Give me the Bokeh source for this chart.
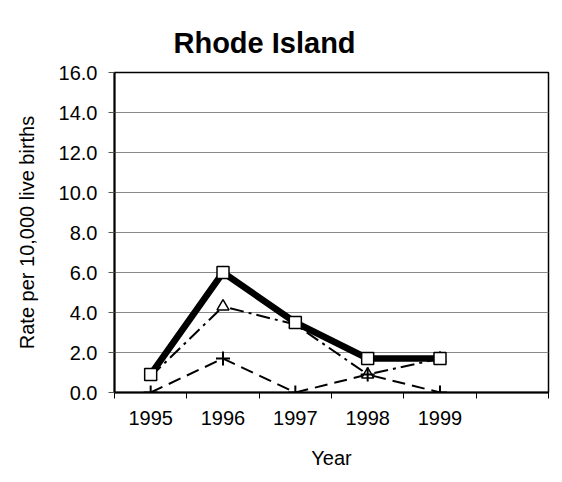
from bokeh.plotting import figure
from bokeh.models import FixedTicker, NumeralTickFormatter, Range1d
from bokeh.embed import file_html
from bokeh.resources import INLINE

years = ["1995", "1996", "1997", "1998", "1999"]
series_square = [0.9, 6.0, 3.5, 1.7, 1.7]
series_triangle = [0.8, 4.3, 3.4, 0.9, 1.7]
series_plus = [0.0, 1.7, 0.0, 0.9, 0.0]
y_ticks = [0, 2, 4, 6, 8, 10, 12, 14, 16]
n_slots = 6  # one empty category slot after 1999

xs = [i + 0.5 for i in range(len(years))]

FONT = "Liberation Sans"

p = figure(width=562, height=482, output_backend="svg", toolbar_location=None,
           x_range=Range1d(0, n_slots), y_range=Range1d(0, 16),
           min_border_left=114, min_border_right=14, min_border_top=72,
           min_border_bottom=90)

p.title.text = "Rhode Island"
p.title.text_font = FONT
p.title.text_font_size = "29px"
p.title.text_font_style = "bold"
p.title.text_color = "black"
p.title.align = "left"
p.title.offset = 59
p.title.standoff = 28

p.outline_line_color = "black"
p.outline_line_width = 1.5
p.background_fill_color = "white"
p.border_fill_color = "white"

# x axis
xa = p.xaxis[0]
xa.ticker = FixedTicker(ticks=xs, minor_ticks=list(range(n_slots + 1)))
xa.major_label_overrides = {x: y for x, y in zip(xs, years)}
xa.major_tick_line_color = None
xa.major_tick_out = 0
xa.major_tick_in = 0
xa.minor_tick_line_color = "black"
xa.minor_tick_out = 6
xa.minor_tick_in = 0
xa.axis_line_color = "black"
xa.axis_line_width = 2
xa.major_label_text_font = FONT
xa.major_label_text_font_size = "20px"
xa.major_label_text_color = "black"
xa.major_label_standoff = 12
xa.axis_label = "Year"
xa.axis_label_text_font = FONT
xa.axis_label_text_font_size = "20px"
xa.axis_label_text_font_style = "normal"
xa.axis_label_text_color = "black"
xa.axis_label_standoff = 19

# y axis
ya = p.yaxis[0]
ya.ticker = FixedTicker(ticks=y_ticks, minor_ticks=[])
ya.formatter = NumeralTickFormatter(format="0.0")
ya.major_tick_line_color = "#555555"
ya.major_tick_out = 6
ya.major_tick_in = 0
ya.minor_tick_line_color = None
ya.axis_line_color = "black"
ya.axis_line_width = 2
ya.major_label_text_font = FONT
ya.major_label_text_font_size = "20px"
ya.major_label_text_color = "black"
ya.major_label_standoff = 11
ya.axis_label = "Rate per 10,000 live births"
ya.axis_label_text_font = FONT
ya.axis_label_text_font_size = "20px"
ya.axis_label_text_font_style = "normal"
ya.axis_label_text_color = "black"
ya.axis_label_standoff = 18

p.xgrid.grid_line_color = None
p.ygrid.ticker = FixedTicker(ticks=y_ticks[1:-1])
p.ygrid.grid_line_color = "#8a8a8a"
p.ygrid.grid_line_width = 1

# series
p.line(xs, series_plus, line_color="black", line_width=2, line_dash="13 7")
p.line(xs, series_triangle, line_color="black", line_width=2, line_dash="14 5 3 5")
p.line(xs, series_square, line_color="black", line_width=6.5)

p.scatter(xs, series_triangle, marker="triangle", size=12, fill_color="white",
          line_color="black", line_width=1.5)
p.scatter(xs, series_plus, marker="cross", size=14, line_color="black", line_width=2)
p.scatter(xs, series_square, marker="square", size=12, fill_color="white",
          line_color="black", line_width=1.5)

open("out.html", "w").write(file_html(p, INLINE))
